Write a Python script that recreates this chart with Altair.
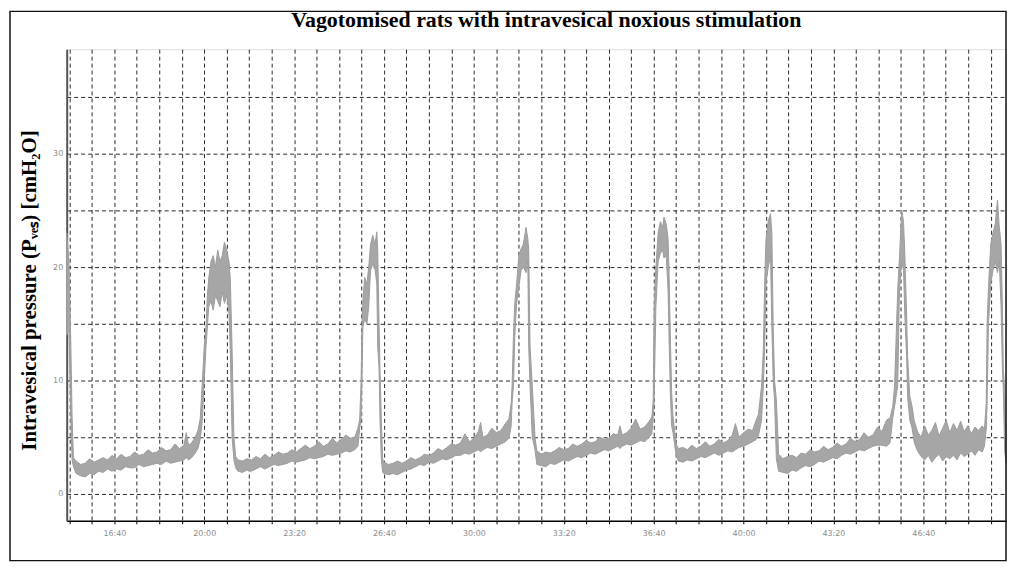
import altair as alt
import pandas as pd

TITLE = "Vagotomised rats with intravesical noxious stimulation"
Y_TITLE = "Intravesical pressure (Pᵥₑₛ) [cmH₂O]"

# time in seconds (axis shows mm:ss), pressure envelope (low / high) of the noisy trace, cmH2O
time_s = [
    894, 899, 903, 906, 909, 915, 925, 935, 945, 955, 965, 975, 985, 995, 1005, 1015, 1025, 1035,
    1045, 1055, 1065, 1075, 1085, 1095, 1105, 1115, 1125, 1135, 1145, 1155, 1160, 1165, 1172, 1180,
    1186, 1191, 1196, 1200, 1204, 1207, 1210, 1215, 1220, 1225, 1230, 1235, 1240, 1245, 1250, 1255,
    1258, 1262, 1266, 1270,
    1275, 1285, 1295, 1305, 1315, 1325, 1335, 1345, 1355, 1365, 1375, 1385, 1395, 1405, 1415, 1425,
    1435, 1445, 1455, 1465, 1475, 1485, 1495, 1505, 1515, 1525, 1535, 1542, 1546, 1549, 1551, 1553,
    1557, 1562, 1566, 1570, 1575, 1580, 1584, 1586, 1589, 1591, 1594, 1597,
    1600, 1610, 1620, 1630, 1640, 1650, 1660, 1670, 1680, 1690, 1700, 1710, 1720, 1730, 1740, 1750,
    1760, 1770, 1780, 1790, 1800, 1810, 1815, 1820, 1830, 1840, 1850, 1860, 1870, 1878, 1883, 1885,
    1888, 1891, 1895, 1900, 1905, 1910, 1916, 1920, 1922, 1925, 1930, 1936,
    1940, 1950, 1960, 1970, 1980, 1990, 2000, 2010, 2020, 2030, 2040, 2050, 2060, 2070, 2080, 2090,
    2100, 2110, 2120, 2125, 2130, 2140, 2150, 2160, 2170, 2180, 2190, 2196, 2199, 2201, 2205, 2210,
    2215, 2220, 2223, 2228, 2232, 2234, 2237, 2240, 2243, 2250,
    2255, 2265, 2275, 2285, 2295, 2305, 2315, 2325, 2335, 2345, 2355, 2365, 2375, 2382, 2390, 2400,
    2410, 2420, 2428, 2433, 2440, 2444, 2447, 2450, 2455, 2460, 2463, 2466, 2469, 2473,
    2478, 2488, 2498, 2508, 2518, 2528, 2538, 2548, 2558, 2568, 2578, 2588, 2598, 2608, 2618, 2628,
    2638, 2648, 2658, 2668, 2678, 2688, 2698, 2708, 2718, 2726, 2732, 2736, 2743, 2747, 2752, 2756,
    2759, 2763, 2765, 2770, 2775, 2780,
    2787, 2795, 2803, 2811, 2819, 2827, 2835, 2843, 2851, 2859, 2867, 2875, 2883, 2891, 2899, 2907,
    2915, 2923, 2931, 2936, 2940, 2942, 2945, 2950, 2955, 2960, 2965, 2969, 2973, 2976, 2978, 2981,
    2984,
]
p_low = [
    14.0, 14.5, 6.8, 3.0, 2.4, 1.8, 1.6, 1.5, 1.8, 1.7, 2.0, 1.9, 2.2, 2.0, 2.2, 2.1, 2.4, 2.3,
    2.3, 2.6, 2.4, 2.5, 2.6, 2.7, 2.6, 2.9, 2.7, 2.8, 2.9, 3.0, 3.2, 3.0, 3.2, 3.6,
    4.0, 4.8, 6.6, 10.0, 13.0, 14.7, 16.5, 17.0, 16.2, 17.5, 17.0, 16.5, 17.8, 16.8, 17.5, 16.0,
    12.7, 5.0, 3.0, 2.3,
    2.0, 1.9, 2.1, 2.0, 2.2, 2.4, 2.2, 2.4, 2.6, 2.5, 2.6, 2.7, 2.9, 2.8, 2.9, 3.0,
    3.2, 3.1, 3.2, 3.3, 3.5, 3.4, 3.5, 3.6, 3.8, 3.7, 3.9, 4.2, 5.8, 6.6, 10.0, 14.7,
    15.4, 15.0, 16.5, 19.7, 20.3, 19.8, 18.5, 13.0, 11.0, 6.6, 3.1, 1.9,
    1.8, 1.7, 1.8, 1.7, 1.9, 2.1, 2.2, 2.4, 2.6, 2.5, 2.8, 2.7, 2.9, 3.1, 3.0, 3.2,
    3.4, 3.4, 3.6, 3.5, 3.7, 3.9, 3.7, 3.9, 4.1, 4.0, 4.2, 4.4, 4.6, 4.9, 6.0, 8.0,
    9.5, 13.9, 16.8, 18.2, 19.7, 20.0, 19.5, 20.5, 13.0, 9.5, 5.0, 3.9,
    2.6, 2.5, 2.4, 2.7, 2.6, 2.8, 3.0, 2.9, 3.1, 3.3, 3.2, 3.4, 3.6, 3.5, 3.7, 3.9,
    3.8, 4.0, 4.2, 4.0, 4.2, 4.4, 4.3, 4.5, 4.7, 4.6, 5.0, 5.3, 6.8, 8.3, 16.5, 20.5,
    21.2, 21.5, 20.8, 21.0, 18.0, 14.2, 9.0, 6.0, 5.4, 3.4,
    2.9, 2.8, 3.0, 2.9, 3.1, 3.3, 3.2, 3.4, 3.6, 3.4, 3.6, 3.8, 3.7, 3.9, 4.1, 4.2,
    4.4, 4.6, 4.8, 5.1, 6.5, 9.5, 12.7, 18.6, 20.0, 21.0, 14.7, 10.0, 8.3, 3.1,
    2.0, 1.9, 1.8, 2.1, 2.0, 2.3, 2.5, 2.4, 2.6, 2.9, 2.8, 3.0, 3.2, 3.1, 3.4, 3.6,
    3.5, 3.7, 3.9, 3.8, 4.0, 4.2, 4.3, 4.3, 4.2, 4.5, 6.7, 7.7, 9.5, 18.0, 20.5, 19.7,
    15.6, 12.1, 8.6, 6.5, 5.8, 4.5,
    3.8, 3.3, 3.0, 3.4, 2.8, 3.2, 3.5, 2.9, 3.3, 3.1, 3.4, 3.0, 3.6, 3.3, 3.5, 3.8,
    3.4, 3.9, 3.7, 4.2, 5.7, 8.0, 15.0, 18.5, 19.7, 20.5, 19.5, 20.5, 16.5, 11.0, 9.2, 3.8,
    2.7,
]
p_high = [
    23.0, 20.5, 13.5, 6.8, 3.2, 2.9, 2.6, 2.7, 3.1, 2.8, 3.0, 3.2, 3.0, 3.4, 3.1, 3.5, 3.2, 3.3,
    3.7, 3.4, 3.5, 3.9, 3.6, 3.7, 4.1, 3.8, 3.9, 4.4, 4.0, 4.3, 5.4, 4.3, 4.5, 5.0,
    5.6, 6.6, 10.0, 13.0, 14.7, 17.5, 19.0, 20.5, 21.0, 20.0, 21.5, 20.5, 21.0, 22.2, 21.5, 20.5,
    19.0, 12.7, 5.0, 3.3,
    3.0, 2.9, 3.1, 3.0, 3.3, 3.1, 3.5, 3.2, 3.4, 3.7, 3.5, 3.6, 3.9, 3.7, 4.0, 4.3,
    4.0, 4.2, 4.6, 4.2, 4.4, 4.9, 4.5, 4.8, 5.2, 4.9, 5.0, 5.8, 6.6, 10.0, 14.7, 17.0,
    19.1, 18.5, 20.0, 22.0, 22.8, 22.0, 23.1, 21.5, 15.0, 11.0, 6.6, 3.1,
    2.8, 2.6, 2.7, 2.9, 2.7, 2.9, 3.2, 3.0, 3.2, 3.5, 3.4, 3.6, 4.0, 3.8, 4.1, 4.4,
    4.3, 4.5, 5.3, 4.6, 4.9, 5.5, 6.3, 5.0, 5.2, 5.8, 5.4, 5.6, 6.2, 6.6, 8.0, 9.5,
    13.9, 16.8, 18.5, 21.0, 21.6, 22.0, 23.5, 22.5, 21.5, 13.0, 9.5, 5.0,
    3.8, 3.5, 3.7, 3.6, 3.8, 4.1, 3.9, 4.0, 4.4, 4.2, 4.4, 4.7, 4.5, 4.6, 5.0, 4.8,
    4.9, 5.3, 5.2, 6.0, 5.2, 5.4, 5.8, 6.6, 5.7, 5.9, 6.4, 6.8, 8.3, 16.5, 20.0, 23.0,
    24.0, 23.5, 24.4, 23.8, 22.5, 20.0, 14.2, 9.0, 6.9, 4.4,
    4.0, 4.1, 3.9, 4.3, 4.0, 4.2, 4.6, 4.2, 4.4, 4.8, 4.5, 4.7, 5.2, 6.2, 5.0, 5.4,
    5.7, 5.6, 6.5, 7.0, 9.5, 12.7, 18.6, 22.5, 24.1, 24.7, 23.0, 14.7, 10.0, 8.3,
    3.5, 3.1, 3.3, 3.4, 3.2, 3.6, 3.5, 3.9, 3.7, 3.8, 4.2, 3.9, 4.1, 4.5, 4.2, 4.4,
    4.9, 4.6, 4.8, 5.4, 5.0, 5.2, 5.9, 5.5, 6.5, 6.7, 7.7, 9.5, 18.0, 20.9, 25.0, 24.0,
    21.0, 15.6, 12.1, 8.6, 7.7, 6.4,
    5.5, 5.0, 6.0, 5.2, 5.6, 6.3, 5.1, 5.8, 6.5, 5.4, 6.2, 5.6, 6.4, 5.5, 6.0, 5.3,
    5.9, 5.6, 6.0, 5.7, 8.0, 15.0, 18.2, 22.0, 23.0, 23.8, 25.9, 23.5, 22.0, 16.5, 11.0, 9.2,
    3.8,
]

x_grid = list(range(900, 2951, 50))          # grid every 50 s, labels every 200 s
y_grid = [0, 5, 10, 15, 20, 25, 30, 35]       # grid every 5, labels every 10

df = pd.DataFrame({"t": time_s, "lo": p_low, "hi": p_high})

W, H = 944, 474
SERIF = "Liberation Serif"

x_label = ("datum.value % 200 == 0 ? floor(datum.value / 60) + ':' + "
           "(datum.value % 60 < 10 ? '0' : '') + (datum.value % 60) : ''")

trace = alt.Chart(df).mark_area(
    color="#a6a6a6", stroke="#9c9c9c", strokeWidth=1, opacity=1
).encode(
    x=alt.X(
        "t:Q",
        scale=alt.Scale(domain=[894, 2984], nice=False, zero=False),
        axis=alt.Axis(
            values=x_grid, labelExpr=x_label, title=None,
            grid=True, gridDash=[4, 3], gridColor="#2a2a2a", gridWidth=1,
            tickSize=3, tickColor="#000", domainColor="#000", domainWidth=1.6,
            labelFont="DejaVu Sans", labelFontSize=8, labelColor="#8a8a8a",
            labelPadding=6, labelOverlap=False, labelFlush=False,
        ),
    ),
    y=alt.Y(
        "lo:Q",
        scale=alt.Scale(domain=[-2.37, 39.2], nice=False, zero=False),
        axis=alt.Axis(
            values=y_grid, labelExpr="datum.value % 10 == 0 ? datum.label : ''",
            title=Y_TITLE, titleFont=SERIF, titleFontSize=21, titleFontWeight="bold",
            titleColor="#000", titleX=-37, titleY=H / 2 + 5, titleAngle=270,
            titleAlign="center", titleBaseline="middle",
            grid=True, gridDash=[4, 3], gridColor="#2a2a2a", gridWidth=1,
            ticks=False, domainColor="#555", domainWidth=2,
            labelFont="DejaVu Sans", labelFontSize=8, labelColor="#8a8a8a",
            labelPadding=4, labelOverlap=False, labelFlush=False,
        ),
    ),
    y2="hi:Q",
)

frame = alt.Chart(alt.Data(values=[{"f": 1}])).mark_rect(
    filled=False, stroke="#111", strokeWidth=1.5
).encode(
    x=alt.value(-57), x2=alt.value(W), y=alt.value(-38), y2=alt.value(H + 40)
)

chart = alt.layer(trace, frame).properties(
    width=W, height=H,
    title=alt.TitleParams(
        TITLE, font=SERIF, fontSize=22, fontWeight="bold", color="#000",
        anchor="middle", offset=18, dx=10, dy=39,
    ),
    autosize=alt.AutoSizeParams(type="none"),
    padding={"left": 59, "top": 40, "right": 2, "bottom": 42},
).configure_view(strokeWidth=0).configure(background="white")

chart.save("out.html", embed_options={"renderer": "svg", "actions": False})
